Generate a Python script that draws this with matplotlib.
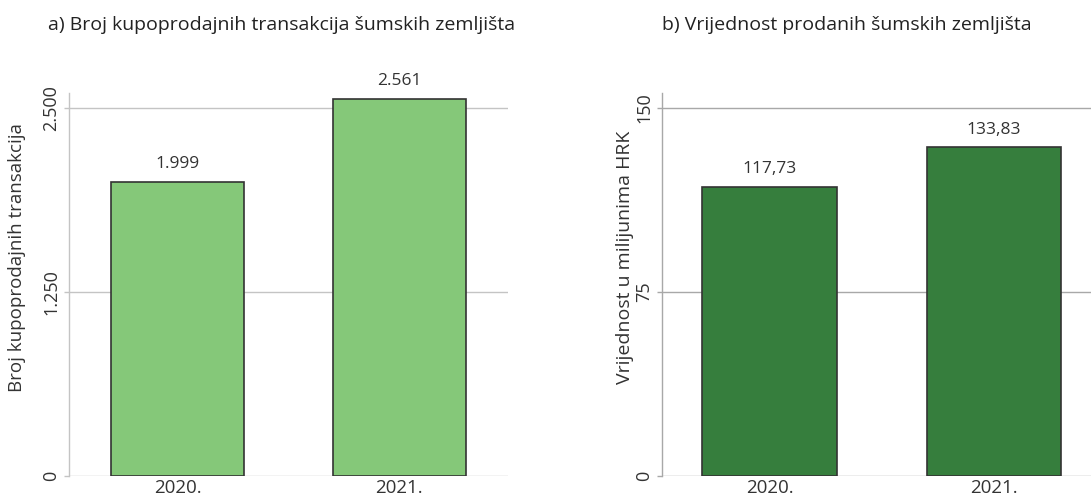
import matplotlib.pyplot as plt
import numpy as np

plt.rcParams['font.family'] = ['Open Sans', 'DejaVu Sans']

years = ['2020.', '2021.']
transakcije = [1999, 2561]
transakcije_lbl = ['1.999', '2.561']
vrijednost = [117.73, 133.83]
vrijednost_lbl = ['117,73', '133,83']

ticks_a = [0, 1250, 2500]
ticks_a_lbl = ['0', '1.250', '2.500']
ticks_b = [0, 75, 150]
ticks_b_lbl = ['0', '75', '150']

W, H = 1091, 497
fig = plt.figure(figsize=(W / 100, H / 100), dpi=100)

txt = '#333333'


def panel(rect, vals, lbls, ticks, tick_lbls, ymax, xlim, color, gridc):
    ax = fig.add_axes(rect)
    x = np.arange(len(vals))
    ax.bar(x, vals, width=0.6, color=color, edgecolor='#333333', linewidth=1.2, zorder=3)
    for xi, v, l in zip(x, vals, lbls):
        ax.annotate(l, (xi, v), xytext=(0, 7), textcoords='offset points',
                    ha='center', va='bottom', fontsize=12.5, color=txt)
    ax.set_xlim(*xlim)
    ax.set_ylim(0, ymax)
    ax.set_yticks(ticks)
    ax.set_yticklabels(tick_lbls, rotation=90, va='center', fontsize=13, color=txt)
    ax.set_xticks(x)
    ax.set_xticklabels(years, fontsize=13.5, color=txt)
    ax.tick_params(axis='x', length=0, pad=2)
    ax.tick_params(axis='y', length=3.5, color=gridc, width=1, pad=3)
    ax.grid(axis='y', color=gridc, linewidth=1, zorder=0)
    ax.set_axisbelow(True)
    for s in ['top', 'right', 'bottom']:
        ax.spines[s].set_visible(False)
    ax.spines['left'].set_color(gridc)
    ax.spines['left'].set_linewidth(1)
    return ax


panel([69 / W, 21 / H, 439 / W, 383 / H], transakcije, transakcije_lbl,
      ticks_a, ticks_a_lbl, 2600, (-0.49, 1.49), '#85c879', '#c4c4c4')
panel([662 / W, 21 / H, 439.5 / W, 383 / H], vrijednost, vrijednost_lbl,
      ticks_b, ticks_b_lbl, 156, (-0.48, 1.48), '#367e3d', '#a8a8a8')

fig.text(282 / W, 1 - 25 / H, 'a) Broj kupoprodajnih transakcija šumskih zemljišta',
         ha='center', va='center', fontsize=14, color='#222222')
fig.text(847 / W, 1 - 25 / H, 'b) Vrijednost prodanih šumskih zemljišta',
         ha='center', va='center', fontsize=14, color='#222222')
fig.text(17 / W, 1 - 258 / H, 'Broj kupoprodajnih transakcija', rotation=90,
         ha='center', va='center', fontsize=13.5, color=txt)
fig.text(625 / W, 1 - 257 / H, 'Vrijednost u milijunima HRK', rotation=90,
         ha='center', va='center', fontsize=14, color=txt)

fig.savefig('out.png', dpi=100)
